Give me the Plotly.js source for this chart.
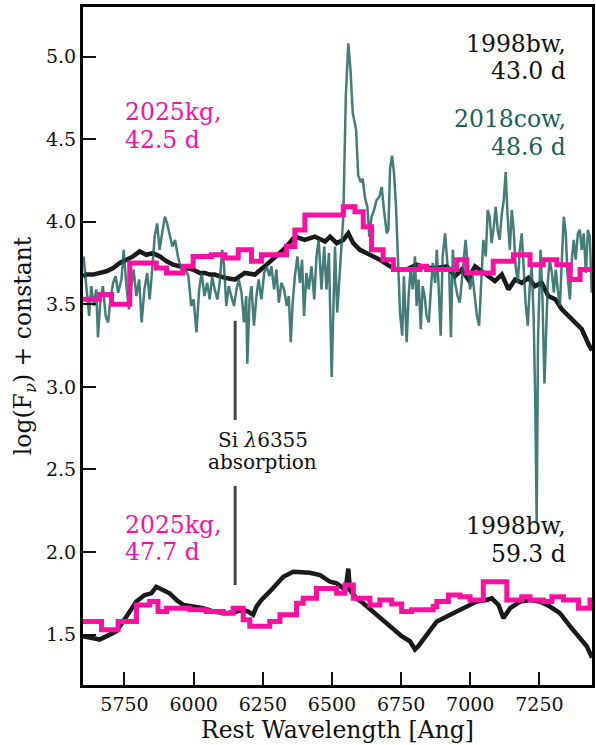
<!DOCTYPE html>
<html>
<head>
<meta charset="utf-8">
<script src="https://cdn.plot.ly/plotly-3.0.1.min.js"></script>
<style>
html,body{margin:0;padding:0;background:#fff;}
#chart{width:596px;height:745px;}
</style>
</head>
<body>
<div id="chart"></div>
<script>
// ---------------- data ----------------
// SN 1998bw, 43.0 d (upper black)
const bw43_wave = [5600,5612,5636,5660,5685,5709,5733,5757,5781,5805,5829,5853,5878,5902,5926,5950,5974,5998,6022,6040,6058,6076,6113,6149,6185,6221,6257,6294,6330,6366,6402,6438,6475,6493,6517,6541,6559,6577,6601,6637,6673,6710,6734,6770,6806,6842,6879,6915,6945,6969,6993,7017,7041,7065,7089,7114,7138,7162,7186,7210,7234,7258,7282,7307,7331,7355,7379,7403,7427,7440];
const bw43_flux = [3.67,3.68,3.68,3.69,3.70,3.72,3.75,3.77,3.79,3.82,3.80,3.81,3.79,3.76,3.74,3.73,3.72,3.71,3.69,3.69,3.68,3.68,3.66,3.65,3.69,3.68,3.73,3.79,3.84,3.91,3.89,3.91,3.88,3.91,3.87,3.89,3.93,3.87,3.83,3.80,3.77,3.73,3.71,3.71,3.74,3.72,3.72,3.73,3.67,3.71,3.65,3.73,3.70,3.67,3.64,3.68,3.59,3.65,3.63,3.66,3.61,3.63,3.55,3.53,3.47,3.43,3.39,3.35,3.26,3.22];

// SN 1998bw, 59.3 d (lower black)
const bw59_wave = [5600,5624,5660,5697,5721,5745,5769,5793,5823,5847,5865,5889,5913,5938,5962,5998,6034,6070,6119,6155,6179,6197,6215,6227,6245,6275,6300,6324,6360,6396,6420,6457,6493,6517,6541,6550,6559,6565,6589,6613,6649,6685,6722,6752,6782,6800,6812,6830,6854,6879,6915,6951,6987,7023,7059,7078,7102,7120,7144,7180,7216,7252,7288,7324,7361,7397,7421,7440];
const bw59_flux = [1.49,1.48,1.47,1.50,1.52,1.58,1.64,1.70,1.74,1.75,1.79,1.77,1.75,1.71,1.68,1.67,1.66,1.64,1.63,1.64,1.65,1.64,1.62,1.67,1.71,1.76,1.81,1.85,1.88,1.88,1.875,1.86,1.82,1.81,1.78,1.78,1.90,1.77,1.72,1.69,1.64,1.59,1.54,1.49,1.46,1.41,1.43,1.47,1.53,1.58,1.61,1.64,1.67,1.70,1.71,1.72,1.68,1.60,1.66,1.70,1.71,1.70,1.67,1.63,1.55,1.48,1.43,1.36];

// AT 2018cow, 48.6 d (teal)
const cow_wave = [5602,5612,5622,5630,5639,5648,5654,5663,5672,5682,5691,5699,5709,5718,5727,5739,5747,5757,5766,5775,5783,5793,5803,5812,5822,5832,5841,5851,5859,5868,5877,5886,5896,5904,5914,5923,5933,5943,5952,5962,5972,5981,5991,6000,6010,6020,6029,6039,6049,6058,6067,6076,6086,6094,6103,6110,6118,6127,6136,6146,6155,6163,6173,6182,6190,6194,6202,6209,6218,6227,6235,6245,6255,6264,6274,6281,6291,6299,6308,6317,6327,6337,6344,6351,6358,6366,6375,6384,6392,6399,6408,6416,6426,6436,6444,6452,6462,6472,6480,6489,6499,6511,6519,6529,6541,6550,6559,6567,6575,6587,6595,6604,6611,6619,6628,6635,6643,6652,6661,6671,6680,6688,6698,6704,6710,6717,6724,6731,6740,6746,6754,6760,6770,6777,6784,6792,6800,6806,6813,6821,6828,6835,6842,6850,6857,6864,6873,6879,6886,6893,6900,6909,6917,6924,6930,6937,6945,6954,6962,6969,6976,6983,6991,6999,7008,7017,7024,7032,7039,7047,7056,7063,7070,7077,7085,7092,7099,7106,7114,7121,7128,7135,7143,7150,7157,7164,7172,7179,7186,7193,7200,7208,7215,7222,7229,7235,7240,7245,7254,7261,7268,7273,7280,7287,7295,7302,7309,7316,7324,7331,7338,7345,7352,7360,7367,7374,7381,7389,7396,7403,7410,7418,7425,7432,7439];
const cow_flux = [3.79,3.59,3.43,3.61,3.49,3.59,3.30,3.53,3.61,3.43,3.39,3.53,3.63,3.67,3.57,3.65,3.83,3.61,3.47,3.61,3.71,3.55,3.65,3.39,3.59,3.69,3.53,3.73,3.91,3.99,3.83,3.93,4.03,3.99,3.91,3.85,3.89,3.79,3.73,3.69,3.71,3.67,3.49,3.53,3.33,3.59,3.69,3.55,3.63,3.53,3.67,3.59,3.53,3.63,3.83,3.73,3.49,3.61,3.55,3.49,3.59,3.65,3.57,3.39,3.55,3.14,3.53,3.61,3.37,3.55,3.65,3.53,3.69,3.73,3.67,3.73,3.59,3.71,3.51,3.63,3.59,3.49,3.55,3.27,3.51,3.67,3.79,3.63,3.77,3.43,3.69,3.59,3.73,3.53,3.79,3.89,3.59,3.85,3.59,3.81,3.06,3.85,3.45,3.75,4.03,4.76,5.08,4.92,4.66,4.56,4.28,4.24,4.26,4.15,4.09,3.91,4.03,4.07,4.13,4.15,4.21,4.07,3.93,3.95,4.32,4.40,4.30,4.11,3.75,3.45,3.31,3.67,3.27,3.55,3.71,3.59,3.79,3.49,3.65,3.35,3.61,3.55,3.43,3.39,3.57,3.75,3.63,3.83,3.59,3.31,3.79,3.93,3.75,3.69,3.30,3.83,3.63,3.55,3.51,3.63,3.77,3.89,3.73,3.59,3.67,3.53,3.43,3.37,3.59,3.89,3.79,4.07,4.03,3.87,3.97,4.09,3.95,3.89,4.05,4.13,4.30,4.03,3.83,4.07,3.95,3.73,3.63,3.83,3.93,3.69,3.51,3.37,3.61,3.73,3.43,2.90,2.18,3.30,3.83,3.53,3.02,3.26,3.63,3.77,3.69,3.57,3.71,3.59,3.49,3.77,4.03,3.93,3.67,3.53,3.77,3.89,3.77,3.93,3.95,3.83,3.93,3.69,3.95,3.91,3.57];

// SN 2025kg, 42.5 d (upper magenta, binned)
const kg42_wave = [5600,5660,5703,5769,5865,5902,5962,5998,6064,6113,6161,6209,6245,6294,6336,6366,6402,6541,6583,6613,6643,6685,6722,6818,6842,6951,6987,7083,7156,7216,7264,7313,7361,7397,7440];
const kg42_flux = [3.53,3.56,3.50,3.75,3.72,3.69,3.73,3.79,3.80,3.78,3.83,3.76,3.80,3.80,3.85,3.95,4.04,4.09,4.06,3.97,3.83,3.77,3.71,3.73,3.71,3.77,3.69,3.76,3.80,3.74,3.77,3.74,3.65,3.71,3.71];

// SN 2025kg, 47.7 d (lower magenta, binned)
const kg47_wave = [5600,5667,5727,5793,5841,5871,5902,5986,6046,6107,6143,6179,6203,6275,6312,6372,6396,6444,6517,6547,6577,6637,6673,6716,6752,6788,6866,6879,6921,6963,6999,7047,7132,7186,7216,7264,7295,7337,7391,7433,7440];
const kg47_flux = [1.58,1.53,1.58,1.68,1.70,1.64,1.66,1.65,1.64,1.63,1.66,1.59,1.55,1.58,1.62,1.69,1.72,1.78,1.75,1.80,1.72,1.68,1.71,1.685,1.64,1.65,1.67,1.70,1.74,1.73,1.71,1.82,1.71,1.73,1.71,1.70,1.73,1.71,1.66,1.71,1.71];

// Si II 6355 marker
const si_wave = [6150,6150,null,6150,6150];
const si_flux = [3.40,2.80,null,2.40,1.80];

// axis ticks
const xticks = [5750,6000,6250,6500,6750,7000,7250];
const yticks = [1.5,2.0,2.5,3.0,3.5,4.0,4.5,5.0];
const ytickLabels = ["1.5","2.0","2.5","3.0","3.5","4.0","4.5","5.0"];

// ---------------- drawing ----------------
const FONT = "DejaVu Serif, Liberation Serif, serif";
const PINK = "#ff0fa0";
const BLACK = "#1a1a1a";
const TEAL_LINE = "rgba(26,95,90,0.82)";
const TEAL_TEXT = "#1a5f5a";

const traces = [
  {x: bw43_wave, y: bw43_flux, mode: "lines", line: {color: BLACK, width: 4.5}, hoverinfo: "skip"},
  {x: bw59_wave, y: bw59_flux, mode: "lines", line: {color: BLACK, width: 4.5}, hoverinfo: "skip"},
  {x: cow_wave, y: cow_flux, mode: "lines", line: {color: TEAL_LINE, width: 2.5}, hoverinfo: "skip"},
  {x: kg42_wave, y: kg42_flux, mode: "lines", line: {color: PINK, width: 5, shape: "hv"}, hoverinfo: "skip"},
  {x: kg47_wave, y: kg47_flux, mode: "lines", line: {color: PINK, width: 5, shape: "hv"}, hoverinfo: "skip"},
  {x: si_wave, y: si_flux, mode: "lines", line: {color: "#444444", width: 3}, connectgaps: false, hoverinfo: "skip"}
];

function ann(text, x, y, xanchor, color, size) {
  return {text: text, x: x, y: y, xref: "x", yref: "y", xanchor: xanchor, yanchor: "middle",
          showarrow: false, borderpad: 0, borderwidth: 0,
          font: {family: FONT, size: size, color: color}};
}

const LS = 23.5;
const annotations = [
  ann("1998bw,", 7345, 5.074, "right", "#111111", LS),
  ann("43.0 d", 7345, 4.910, "right", "#111111", LS),
  ann("2018cow,", 7345, 4.619, "right", TEAL_TEXT, LS),
  ann("48.6 d", 7345, 4.450, "right", TEAL_TEXT, LS),
  ann("2025kg,", 5751, 4.665, "left", PINK, LS),
  ann("42.5 d", 5751, 4.497, "left", PINK, LS),
  ann("2025kg,", 5751, 2.164, "left", PINK, LS),
  ann("47.7 d", 5751, 2.001, "left", PINK, LS),
  ann("1998bw,", 7345, 2.159, "right", "#111111", LS),
  ann("59.3 d", 7345, 1.991, "right", "#111111", LS),
  ann("Si <i>λ</i>6355", 6250, 2.680, "center", "#111111", 20),
  ann("absorption", 6250, 2.543, "center", "#111111", 20)
];

const layout = {
  width: 596, height: 745,
  margin: {l: 83, r: 4, t: 7, b: 60},
  paper_bgcolor: "#ffffff", plot_bgcolor: "#ffffff",
  showlegend: false,
  font: {family: FONT, color: "#111111"},
  xaxis: {
    range: [5600, 7440], tickvals: xticks, ticktext: xticks.map(String),
    ticks: "inside", ticklen: 13, tickwidth: 2, tickcolor: "#111111",
    showline: true, linewidth: 3, linecolor: "#000000", mirror: true,
    showgrid: false, zeroline: false,
    tickfont: {family: FONT, size: 19, color: "#111111"},
    title: {text: "Rest Wavelength [Ang]", font: {family: FONT, size: 23.5, color: "#111111"}, standoff: 8}
  },
  yaxis: {
    range: [1.195, 5.30], tickvals: yticks, ticktext: ytickLabels,
    ticks: "inside", ticklen: 13, tickwidth: 2, tickcolor: "#111111",
    showline: true, linewidth: 3, linecolor: "#000000", mirror: true,
    showgrid: false, zeroline: false,
    tickfont: {family: FONT, size: 19, color: "#111111"},
    title: {text: "log(F<sub><i>ν</i></sub>) + constant", font: {family: FONT, size: 23.5, color: "#111111"}, standoff: 8}
  },
  annotations: annotations
};

Plotly.newPlot("chart", traces, layout, {staticPlot: true, displayModeBar: false});
</script>
</body>
</html>
